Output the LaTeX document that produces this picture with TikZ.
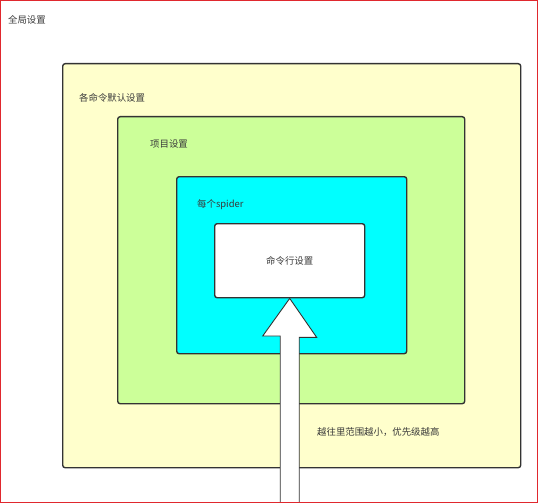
\documentclass[tikz,border=0pt]{standalone}
\usepackage{fontspec}
\setmainfont{Noto Sans CJK SC}
\usetikzlibrary{positioning}
\definecolor{boxline}{HTML}{333333}
\definecolor{textgray}{HTML}{3A3A3A}
\definecolor{cmdyellow}{HTML}{FFFFCC}
\definecolor{projgreen}{HTML}{CCFF99}
\definecolor{spidercyan}{HTML}{00FFFF}
\definecolor{frame red}{HTML}{E0282E}

\begin{document}
\begin{tikzpicture}[x=1pt,y=-1pt]
      \tikzset{layer box/.style={draw=boxline,
          line width=1.4pt,
          rounded corners=2.5pt,
          fill=#1,
          inner sep=0pt,
          anchor=north west},
        layer label/.style={anchor=west,
          inner sep=0pt,
          text=textgray,
          font=\fontsize{9.4}{11}\selectfont}
      }
      \useasboundingbox (0,0) rectangle (539,503);
      \node [layer label] (global) at (8,20) {全局设置};
      \node [layer box=cmdyellow, minimum width=458pt, minimum height=404pt] (cmddefault) at (62,63) {};
      \node [layer box=projgreen, minimum width=347pt, minimum height=287pt] (project) at (117,116) {};
      \node [layer box=spidercyan, minimum width=230pt, minimum height=177pt] (spider) at (176,176) {};
      \node [layer box=white, minimum width=150pt, minimum height=74pt] (cmdline) at (214,223) {};
      \node [layer label] at (79,98) {各命令默认设置};
      \node [layer label] at (150,144) {项目设置};
      \node [layer label] at (197,205) {每个spider};
      \node [layer label, anchor=center] at (cmdline.center) {命令行设置};
      \node [layer label] (rule) at (317,432) {越往里范围越小，优先级越高};
      \coordinate (foot) at (cmdline.south|-0,508);
      \draw [fill=white, draw=boxline, line width=0.9pt, line join=miter]
        (cmdline.south) -- ++(27,39) -- ++(-17.5,0) -- ([xshift=9.5pt]foot)
        -- ([xshift=-9.5pt]foot) -- ++(0,-172) -- ++(-17.5,0) -- cycle;
      \draw [frame red, line width=1.2pt] (0.6,0.6) rectangle (537.8,502.2);
\end{tikzpicture}
\end{document}
